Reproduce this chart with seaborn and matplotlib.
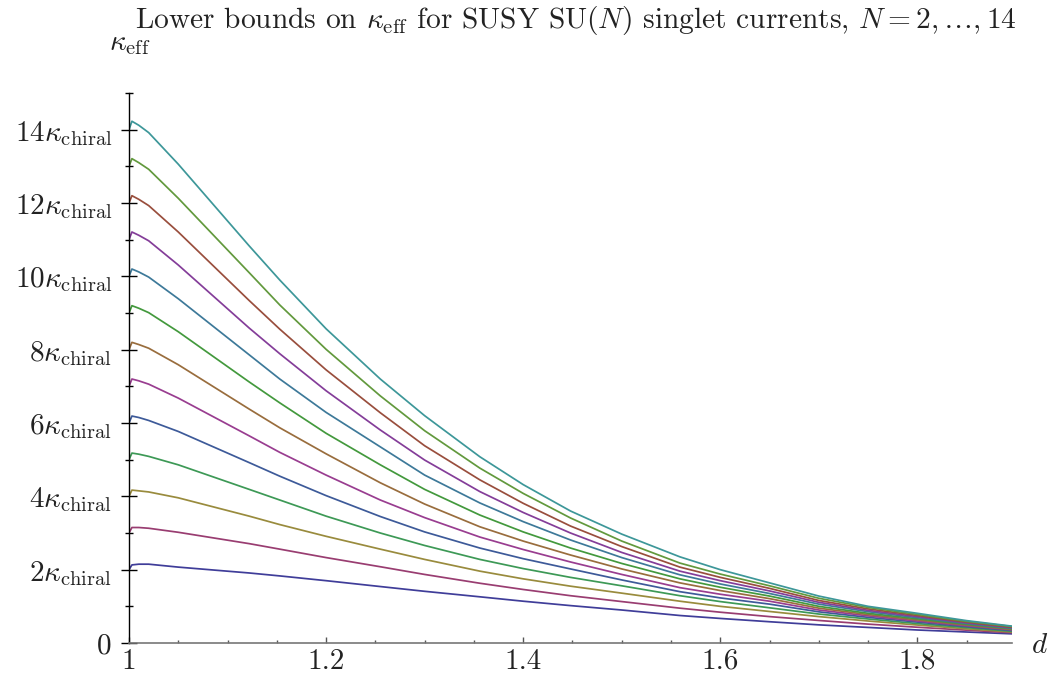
import colorsys
import numpy as np
import pandas as pd
import matplotlib
matplotlib.use("Agg")
import matplotlib.pyplot as plt
from matplotlib.ticker import MultipleLocator, FixedLocator
import seaborn as sns

# ---------------- data ----------------
N_values = [2, 3, 4, 5, 6, 7, 8, 9, 10, 11, 12, 13, 14]
d_grid = [1.0, 1.003, 1.01, 1.02, 1.05, 1.122, 1.153, 1.2, 1.255, 1.3, 1.356,
          1.4, 1.448, 1.5, 1.559, 1.6, 1.65, 1.7, 1.75, 1.8, 1.85, 1.896]

k_100 = [2, 3, 4, 5, 6, 7, 8, 9, 10, 11, 12, 13, 14]
k_1003 = [2.13, 3.15, 4.17, 5.18, 6.19, 7.2, 8.2, 9.2, 10.2, 11.21, 12.2, 13.21, 14.23]
k_101 = [2.15, 3.15, 4.15, 5.15, 6.15, 7.15, 8.14, 9.13, 10.12, 11.12, 12.1, 13.1, 14.12]
k_102 = [2.15, 3.13, 4.12, 5.09, 6.07, 7.06, 8.04, 9.01, 9.98, 10.97, 11.93, 12.92, 13.92]
k_105 = [2.07, 3.02, 3.96, 4.86, 5.77, 6.68, 7.59, 8.49, 9.39, 10.31, 11.21, 12.13, 13.06]
k_1122 = [1.91, 2.71, 3.46, 4.19, 4.92, 5.65, 6.38, 7.12, 7.86, 8.59, 9.34, 10.10, 10.83]
k_1153 = [1.83, 2.56, 3.23, 3.90, 4.55, 5.20, 5.87, 6.55, 7.20, 7.89, 8.56, 9.22, 9.90]
k_120 = [1.70, 2.33, 2.91, 3.46, 4.02, 4.58, 5.16, 5.72, 6.29, 6.88, 7.45, 8.01, 8.57]
k_1255 = [1.54, 2.08, 2.56, 3.00, 3.45, 3.90, 4.37, 4.86, 5.35, 5.81, 6.28, 6.74, 7.20]
k_130 = [1.41, 1.87, 2.28, 2.66, 3.03, 3.42, 3.79, 4.19, 4.58, 4.99, 5.38, 5.79, 6.20]
k_1356 = [1.26, 1.63, 1.96, 2.28, 2.59, 2.89, 3.17, 3.49, 3.82, 4.13, 4.45, 4.77, 5.08]
k_140 = [1.14, 1.46, 1.75, 2.03, 2.30, 2.55, 2.78, 3.03, 3.31, 3.56, 3.81, 4.08, 4.32]
k_1448 = [1.02, 1.29, 1.55, 1.79, 2.02, 2.21, 2.40, 2.59, 2.81, 3.00, 3.19, 3.41, 3.60]
k_150 = [0.90, 1.13, 1.36, 1.56, 1.72, 1.87, 2.02, 2.17, 2.33, 2.47, 2.63, 2.78, 2.97]
k_1559 = [0.75, 0.95, 1.14, 1.29, 1.40, 1.51, 1.64, 1.75, 1.86, 1.96, 2.07, 2.18, 2.35]
k_160 = [0.67, 0.84, 1.00, 1.13, 1.23, 1.33, 1.43, 1.52, 1.61, 1.70, 1.79, 1.88, 2.00]
k_165 = [0.58, 0.72, 0.86, 0.96, 1.06, 1.14, 1.21, 1.28, 1.35, 1.42, 1.49, 1.56, 1.64]
k_170 = [0.495, 0.615, 0.72, 0.79, 0.85, 0.90, 0.95, 1.00, 1.06, 1.11, 1.16, 1.22, 1.28]
k_175 = [0.425, 0.515, 0.60, 0.655, 0.70, 0.74, 0.775, 0.81, 0.855, 0.89, 0.93, 0.97, 1.00]
k_180 = [0.355, 0.43, 0.49, 0.53, 0.57, 0.60, 0.63, 0.66, 0.69, 0.72, 0.75, 0.78, 0.81]
k_185 = [0.30, 0.35, 0.385, 0.42, 0.445, 0.47, 0.49, 0.51, 0.53, 0.55, 0.57, 0.59, 0.61]
k_1896 = [0.25, 0.28, 0.30, 0.32, 0.34, 0.36, 0.37, 0.39, 0.40, 0.42, 0.43, 0.45, 0.46]

columns = [k_100, k_1003, k_101, k_102, k_105, k_1122, k_1153, k_120, k_1255,
           k_130, k_1356, k_140, k_1448, k_150, k_1559, k_160, k_165, k_170,
           k_175, k_180, k_185, k_1896]

y_tick_values = [0, 2, 4, 6, 8, 10, 12, 14]
y_tick_labels = ["0"] + [r"$%d\kappa_{\rm chiral}$" % v for v in y_tick_values[1:]]
x_tick_values = [1.0, 1.2, 1.4, 1.6, 1.8]
x_tick_labels = ["1", "1.2", "1.4", "1.6", "1.8"]

rows = []
for j, d in enumerate(d_grid):
    for i, n in enumerate(N_values):
        rows.append({"d": d, "kappa": columns[j][i], "N": n})
df = pd.DataFrame(rows)

# Mathematica-like default palette (golden-ratio hue steps, s=v=0.6)
palette = {}
for i, n in enumerate(N_values):
    h = (0.67 + i * 0.2360679774997897) % 1.0
    palette[n] = colorsys.hsv_to_rgb(h, 0.6, 0.6)

# ---------------- style ----------------
sns.set_theme(style="white")
plt.rcParams["font.family"] = ["cmr10", "DejaVu Serif"]
plt.rcParams["mathtext.fontset"] = "cm"
plt.rcParams["axes.formatter.use_mathtext"] = True
plt.rcParams["axes.unicode_minus"] = False

fig = plt.figure(figsize=(10.52, 6.80), dpi=100)
ax = fig.add_axes([0.1226, 0.0544, 0.8394, 0.8088])

sns.lineplot(data=df, x="d", y="kappa", hue="N", palette=palette,
             estimator=None, sort=True, legend=False, linewidth=1.25, ax=ax)

ax.set_xlim(1.0, 1.896)
ax.set_ylim(0, 15)

for s in ["top", "right"]:
    ax.spines[s].set_visible(False)
ax.spines["left"].set_color("black")
ax.spines["left"].set_linewidth(1.0)
ax.spines["bottom"].set_color("#777777")
ax.spines["bottom"].set_linewidth(1.2)

ax.yaxis.set_major_locator(FixedLocator(y_tick_values))
ax.set_yticklabels(y_tick_labels)
ax.yaxis.set_minor_locator(FixedLocator([1, 3, 5, 7, 9, 11, 13, 15]))
ax.xaxis.set_major_locator(FixedLocator(x_tick_values))
ax.set_xticklabels(x_tick_labels)
ax.xaxis.set_minor_locator(MultipleLocator(0.05))

ax.tick_params(axis="y", which="both", left=True, right=False)
ax.tick_params(axis="x", which="both", bottom=True, top=False)
ax.tick_params(axis="y", which="major", direction="inout", length=11.5,
               width=1.0, color="black", labelsize=21, pad=6.5)
ax.tick_params(axis="y", which="minor", direction="inout", length=6,
               width=1.0, color="black")
ax.tick_params(axis="x", which="major", direction="in", length=4.5,
               width=1.0, color="#555555", labelsize=21, pad=4)
ax.tick_params(axis="x", which="minor", direction="in", length=2.5,
               width=1.0, color="#555555")
ax.tick_params(axis="both", labelcolor="#222222")
ax.set_xlabel("")
ax.set_ylabel("")

fig.text(0.547, 0.97, r"Lower bounds on $\kappa_{\rm eff}$ for SUSY SU$(N)$ singlet currents, $N=2,\ldots,14$",
         ha="center", va="center", fontsize=21.2, color="#222222")
fig.text(0.123, 0.936, r"$\kappa_{\rm eff}$", ha="center", va="center",
         fontsize=21, color="#222222")
fig.text(0.988, 0.05, r"$d$", ha="center", va="center",
         fontsize=21, color="#222222")

fig.savefig("out.png", dpi=100)
